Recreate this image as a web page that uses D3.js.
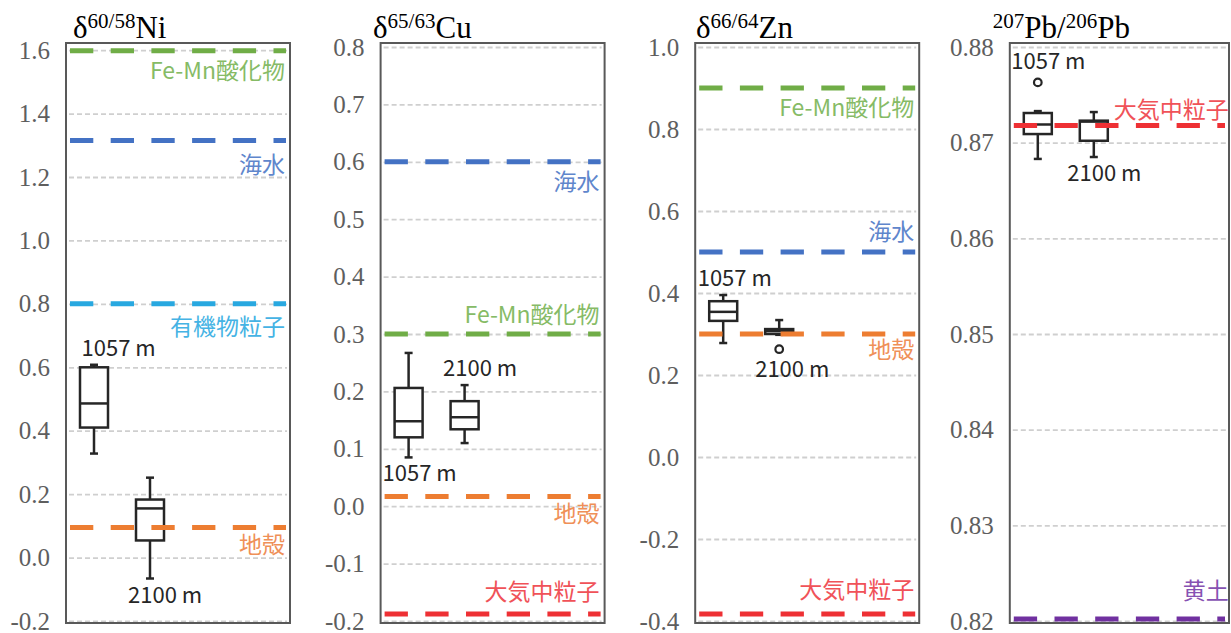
<!DOCTYPE html>
<html><head><meta charset="utf-8">
<script src="https://cdn.jsdelivr.net/npm/d3@7/dist/d3.min.js"></script>
<style>body{margin:0;background:#fff}svg{display:block}</style>
</head><body><svg id="c" width="1231" height="633"></svg>
<script>
// ---------- data ----------
const panelKeys = ["Ni", "Cu", "Zn", "Pb"];
const titleParts = {
  Ni: [["δ", 0], ["60/58", 1], ["Ni", 0]],
  Cu: [["δ", 0], ["65/63", 1], ["Cu", 0]],
  Zn: [["δ", 0], ["66/64", 1], ["Zn", 0]],
  Pb: [["207", 1], ["Pb/", 0], ["206", 1], ["Pb", 0]]
};
const yDomains = { Ni: [-0.2, 1.61], Cu: [-0.2, 0.8], Zn: [-0.4, 1.0], Pb: [0.82, 0.88] };
const niTicks = [-0.2, 0, 0.2, 0.4, 0.6, 0.8, 1.0, 1.2, 1.4, 1.6];
const niTickLabels = ["-0.2", "0.0", "0.2", "0.4", "0.6", "0.8", "1.0", "1.2", "1.4", "1.6"];
const cuTicks = [-0.2, -0.1, 0, 0.1, 0.2, 0.3, 0.4, 0.5, 0.6, 0.7, 0.8];
const cuTickLabels = ["-0.2", "-0.1", "0.0", "0.1", "0.2", "0.3", "0.4", "0.5", "0.6", "0.7", "0.8"];
const znTicks = [-0.4, -0.2, 0, 0.2, 0.4, 0.6, 0.8, 1.0];
const znTickLabels = ["-0.4", "-0.2", "0.0", "0.2", "0.4", "0.6", "0.8", "1.0"];
const pbTicks = [0.82, 0.83, 0.84, 0.85, 0.86, 0.87, 0.88];
const pbTickLabels = ["0.82", "0.83", "0.84", "0.85", "0.86", "0.87", "0.88"];
const ticks = { Ni: niTicks, Cu: cuTicks, Zn: znTicks, Pb: pbTicks };
const tickLabels = { Ni: niTickLabels, Cu: cuTickLabels, Zn: znTickLabels, Pb: pbTickLabels };

const depths = ["1057 m", "2100 m"];
// [whisker min, q1, median, q3, whisker max]
const niBoxes = [[0.328, 0.41, 0.486, 0.60, 0.608], [-0.066, 0.054, 0.155, 0.183, 0.252]];
const cuBoxes = [[0.085, 0.12, 0.148, 0.206, 0.267], [0.11, 0.134, 0.155, 0.183, 0.211]];
const znBoxes = [[0.278, 0.332, 0.354, 0.38, 0.395], [0.298, 0.300, 0.307, 0.312, 0.334]];
const pbBoxes = [[0.8683, 0.8709, 0.8719, 0.8731, 0.8733], [0.8685, 0.8702, 0.8722, 0.8723, 0.8732]];
const boxes = { Ni: niBoxes, Cu: cuBoxes, Zn: znBoxes, Pb: pbBoxes };
const outliers = { Ni: [[], []], Cu: [[], []], Zn: [[], [0.263]], Pb: [[0.8763], []] };

const refNames = {
  Ni: ["Fe-Mn酸化物", "海水", "有機物粒子", "地殻"],
  Cu: ["海水", "Fe-Mn酸化物", "地殻", "大気中粒子"],
  Zn: ["Fe-Mn酸化物", "海水", "地殻", "大気中粒子"],
  Pb: ["大気中粒子", "黄土"]
};
const refValues = {
  Ni: [1.598, 1.315, 0.80, 0.095],
  Cu: [0.60, 0.30, 0.017, -0.188],
  Zn: [0.90, 0.50, 0.30, -0.383],
  Pb: [0.8718, 0.8202]
};

// ---------- layout / style ----------
const refColors = {
  "Fe-Mn酸化物": "#70AD47", "海水": "#4472C4", "有機物粒子": "#28A8E0",
  "地殻": "#ED7D31", "大気中粒子": "#EE3034", "黄土": "#7030A0"
};
const refTextColors = {
  "Fe-Mn酸化物": "#86BB66", "海水": "#5F86CC", "有機物粒子": "#45B3E4",
  "地殻": "#EF9058", "大気中粒子": "#F05258", "黄土": "#8752B2"
};
const refLabelDy = { Ni: [28, 32, 31, 26], Cu: [28, -11, 26, -14], Zn: [28, -12, 24, -16], Pb: [-7, -20] };
const depthLabelSide = { Ni: ["above", "below"], Cu: ["below", "above"], Zn: ["above", "below"], Pb: ["above", "below"] };
const depthLabelDx = { Ni: [-12.5, -22], Cu: [-26, -21.5], Zn: [-25.5, -24], Pb: [-26.5, -26.5] };
const titleDx = [7, -7.6, 0.8, -17];

const frameTop = 43, frameBottom = 623, yTopPx = 47, yBotPx = 621, panelW = 224;
const svg = d3.select("#c");
const serif = "'Liberation Serif','Times New Roman',serif";
const sans = "'Noto Sans CJK JP','Noto Sans',sans-serif";

panelKeys.forEach((k, i) => {
  const x0 = 66 + i * 314.6;
  const w = Math.min(panelW, 1229 - x0);
  const y = d3.scaleLinear().domain(yDomains[k]).range([yBotPx, yTopPx]);
  const x = d3.scaleBand().domain(depths).range([x0, x0 + panelW / 2]);
  const g = svg.append("g");

  // gridlines
  const grid = g.append("g").attr("transform", `translate(${x0 + 3},0)`)
    .call(d3.axisRight(y).tickValues(ticks[k]).tickSize(w - 6).tickFormat(""));
  grid.select(".domain").remove();
  grid.selectAll("line").attr("stroke", "#cfcfcf").attr("stroke-width", 1.8).attr("stroke-dasharray", "5,3");

  // tick labels
  const ax = g.append("g").attr("transform", `translate(${x0},0)`)
    .call(d3.axisLeft(y).tickValues(ticks[k]).tickSize(0).tickPadding(16)
      .tickFormat((d, j) => tickLabels[k][j]));
  ax.attr("font-family", null).attr("font-size", null);
  ax.select(".domain").remove();
  ax.selectAll("text").style("font-family", serif).style("font-size", "25px").attr("fill", "#5e5e5e");

  // frame
  g.append("rect").attr("x", x0).attr("y", frameTop).attr("width", w).attr("height", frameBottom - frameTop)
    .attr("fill", "none").attr("stroke", "#595959").attr("stroke-width", 2);

  // title
  const t = g.append("text").attr("x", x0 + titleDx[i]).attr("y", 38)
    .style("font-family", serif).attr("fill", "#000");
  let prevSup = 0;
  titleParts[k].forEach(([s, sup]) => {
    const ts = t.append("tspan").text(s).style("font-size", (sup ? 21 : 31) + "px");
    const dy = sup && !prevSup ? -10 : (!sup && prevSup ? 10 : 0);
    if (dy) ts.attr("dy", dy);
    prevSup = sup;
  });

  // boxes
  const bw = x.bandwidth() * 0.5, cap = 8;
  const stroke = "#262626", sw = 2.5;
  depths.forEach((dname, j) => {
    const [mn, q1, md, q3, mx] = boxes[k][j];
    const cx = x(dname) + x.bandwidth() / 2;
    const bg = g.append("g").attr("stroke", stroke).attr("stroke-width", sw);
    bg.append("line").attr("x1", cx).attr("x2", cx).attr("y1", y(mx)).attr("y2", y(q3));
    bg.append("line").attr("x1", cx).attr("x2", cx).attr("y1", y(q1)).attr("y2", y(mn));
    bg.append("line").attr("x1", cx - cap / 2).attr("x2", cx + cap / 2).attr("y1", y(mx)).attr("y2", y(mx));
    bg.append("line").attr("x1", cx - cap / 2).attr("x2", cx + cap / 2).attr("y1", y(mn)).attr("y2", y(mn));
    bg.append("rect").attr("x", cx - bw / 2).attr("width", bw).attr("y", y(q3)).attr("height", y(q1) - y(q3))
      .attr("fill", "#fff");
    bg.append("line").attr("x1", cx - bw / 2).attr("x2", cx + bw / 2).attr("y1", y(md)).attr("y2", y(md));
    outliers[k][j].forEach(o => {
      bg.append("circle").attr("cx", cx).attr("cy", y(o)).attr("r", 3.8).attr("fill", "#fff").attr("stroke-width", 2.2);
    });
    // depth label
    const allVals = [mn, mx, ...outliers[k][j]];
    const side = depthLabelSide[k][j];
    let ly;
    if (side === "above") {
      const topPx = y(d3.max(allVals)) - (outliers[k][j].length && d3.max(outliers[k][j]) > mx ? 4 : 0);
      ly = topPx - 9;
    } else {
      const botPx = y(d3.min(allVals)) + (outliers[k][j].length && d3.min(outliers[k][j]) < mn ? 4 : 0);
      ly = botPx + 24;
    }
    g.append("text").attr("x", cx + depthLabelDx[k][j]).attr("y", ly)
      .style("font-family", sans).style("font-size", "22px").attr("fill", "#262626").text(dname);
  });

  // reference lines + labels
  refNames[k].forEach((nm, j) => {
    const v = refValues[k][j];
    g.append("line").attr("x1", x0 + 4).attr("x2", x0 + w - 4).attr("y1", y(v)).attr("y2", y(v))
      .attr("stroke", refColors[nm]).attr("stroke-width", 5).attr("stroke-dasharray", "23.3,17.4");
    g.append("text").attr("x", x0 + panelW - 5).attr("y", y(v) + refLabelDy[k][j])
      .attr("text-anchor", "end").style("font-family", sans).style("font-size", "23px")
      .attr("fill", refTextColors[nm]).text(nm);
  });
});
</script></body></html>
